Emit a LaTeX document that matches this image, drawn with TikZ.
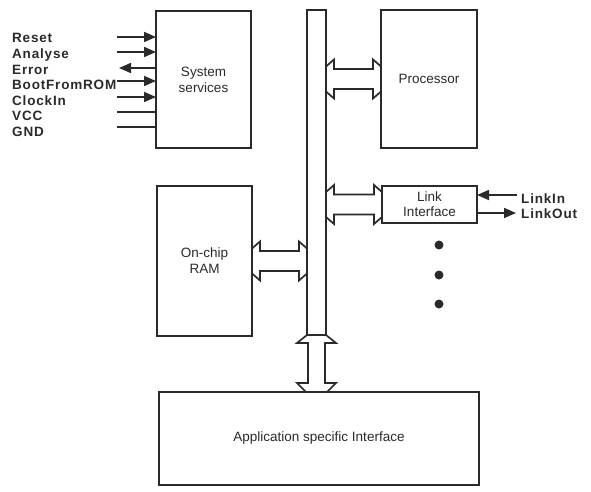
\documentclass[tikz,border=0pt]{standalone}
\usepackage{fontspec}
\setmainfont{Liberation Sans}
\newfontfamily\sigfont[LetterSpace=6]{Liberation Sans Bold}
\usetikzlibrary{calc,arrows.meta}
\definecolor{ink}{HTML}{2A2A2A}
\newcommand{\hbusarrow}[2]{%
  \draw[hollow] let \p1=(#1), \p2=(#2) in
  (\x1,\y1+12.5pt) -- (\x1+8pt,\y1+19.5pt) -- (\x1+8pt,\y1+10pt) -- (\x2-8pt,\y1+10pt)
  -- (\x2-8pt,\y1+19.5pt) -- (\x2,\y1+12.5pt) -- (\x2,\y1-12.5pt) -- (\x2-8pt,\y1-19.5pt)
  -- (\x2-8pt,\y1-10pt) -- (\x1+8pt,\y1-10pt) -- (\x1+8pt,\y1-19.5pt) -- (\x1,\y1-12.5pt) -- cycle;}
\newcommand{\vbusarrow}[2]{%
  \draw[hollow] let \p1=(#1), \p2=(#2) in
  (\x1+9.5pt,\y1) -- (\x1+19.5pt,\y1-8pt) -- (\x1+8.5pt,\y1-8pt) -- (\x1+8.5pt,\y2+9pt)
  -- (\x1+19.5pt,\y2+9pt) -- (\x1+10.5pt,\y2) -- (\x1-10.5pt,\y2) -- (\x1-19.5pt,\y2+9pt)
  -- (\x1-8.5pt,\y2+9pt) -- (\x1-8.5pt,\y1-8pt) -- (\x1-19.5pt,\y1-8pt) -- (\x1-9.5pt,\y1) -- cycle;}
\begin{document}
\begin{tikzpicture}[x=1pt,y=-1pt,
  box/.style={draw=ink,line width=1.8pt,rectangle,inner sep=0pt,outer sep=0pt,align=center,
    font=\fontsize{13.5}{16}\selectfont,text=ink},
  sig/.style={draw=ink,line width=1.7pt,-{Triangle[length=12pt,width=10pt]}},
  wire/.style={draw=ink,line width=1.7pt},
  siglabel/.style={anchor=base west,inner sep=0pt,font=\sigfont\fontsize{13.5}{15}\selectfont,text=ink},
  hollow/.style={draw=ink,line width=1.7pt,line join=miter},
  dot/.style={circle,fill=ink,inner sep=0pt,minimum size=9pt}]
\path[use as bounding box,fill=white] (0,0) rectangle (591,492);

% boxes
\node[box,minimum width=95pt,minimum height=137pt] (sys) at (203.5,79.5) {System\\services};
\node[box,minimum width=96pt,minimum height=138pt] (proc) at (429,79) {Processor};
\node[box,minimum width=95pt,minimum height=37pt,font=\fontsize{13.5}{15}\selectfont] (link) at (429.5,204.5) {Link\\Interface};
\node[box,minimum width=95pt,minimum height=150pt] (ram) at (204.5,261) {On-chip\\RAM};
\node[box,minimum width=320pt,minimum height=93pt] (app) at (319,438.5) {Application specific Interface};
\node[box,minimum width=19pt,minimum height=325pt] (bus) at (316.5,172.5) {};

% bus connections
\hbusarrow{bus.east |- proc.west}{proc.west}
\hbusarrow{bus.east |- link.west}{link.west}
\hbusarrow{ram.east}{ram.east -| bus.west}
\vbusarrow{bus.south}{bus.south |- app.north}

% system signals
\node[siglabel] (lreset) at (12,43) {Reset};
\node[siglabel] (lanalyse) at (12,58.6) {Analyse};
\node[siglabel] (lerror) at (12,74.2) {Error};
\node[siglabel] (lboot) at (12,89.8) {BootFromROM};
\node[siglabel] (lclock) at (12,105.4) {ClockIn};
\node[siglabel] (lvcc) at (12,121) {VCC};
\node[siglabel] (lgnd) at (12,136.6) {GND};

\coordinate (sreset) at (117,37);
\coordinate (sanalyse) at (117,52);
\coordinate (serror) at (119,68);
\coordinate (sboot) at (117,81);
\coordinate (sclock) at (117,97);
\coordinate (svcc) at (117,112);
\coordinate (sgnd) at (117,127);
\draw[sig] (sreset) -- (sreset -| sys.west);
\draw[sig] (sanalyse) -- (sanalyse -| sys.west);
\draw[sig] (serror -| sys.west) -- (serror);
\draw[sig] (sboot) -- (sboot -| sys.west);
\draw[sig] (sclock) -- (sclock -| sys.west);
\draw[wire] (svcc) -- (svcc -| sys.west);
\draw[wire] (sgnd) -- (sgnd -| sys.west);

% link signals
\coordinate (slinkin) at (517,195);
\coordinate (slinkout) at (516,213);
\draw[sig] (slinkin) -- (slinkin -| link.east);
\draw[sig] (slinkout -| link.east) -- (slinkout);
\node[siglabel] (llinkin) at (521,203) {LinkIn};
\node[siglabel] (llinkout) at (521,218.5) {LinkOut};

% more links
\node[dot] (d1) at (439,245) {};
\node[dot] (d2) at (439,275) {};
\node[dot] (d3) at (439,304) {};
\end{tikzpicture}
\end{document}
